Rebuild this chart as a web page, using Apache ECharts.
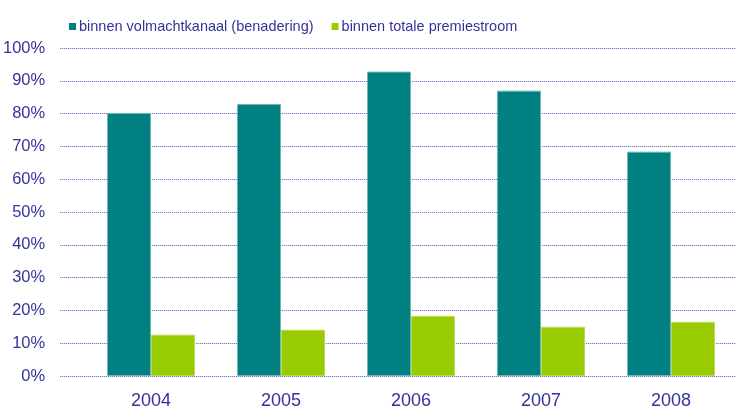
<!DOCTYPE html>
<html>
<head>
<meta charset="utf-8">
<script src="https://cdn.jsdelivr.net/npm/echarts@6/dist/echarts.min.js"></script>
<style>
  html, body { margin: 0; padding: 0; background: #fff; }
  #chart { width: 736px; height: 412px; }
</style>
</head>
<body>
<div id="chart"></div>
<script>
// data
const years = ['2004', '2005', '2006', '2007', '2008'];
const volmachtkanaal = [80.2, 82.9, 92.8, 87.0, 68.4];
const totalePremiestroom = [12.6, 14.1, 18.3, 15.0, 16.5];
const seriesNames = ['binnen volmachtkanaal (benadering)', 'binnen totale premiestroom'];

const textColor = '#333399';
const gridColor = '#5c5cb8';
const font = "'Liberation Sans', Arial, sans-serif";

const chart = echarts.init(document.getElementById('chart'));

const option = {
  animation: false,
  color: ['#008080', '#99cc00'],
  textStyle: { fontFamily: font },
  legend: {
    left: 64,
    top: 14,
    icon: 'rect',
    itemWidth: 7,
    itemHeight: 7,
    itemGap: 18,
    itemStyle: { borderWidth: 0 },
    textStyle: { color: textColor, fontSize: 14.5, fontFamily: font, padding: [0, 0, 0, -2] },
    data: seriesNames
  },
  grid: [
    // gridlines + percentage labels
    { left: 60, right: 0, top: 48, bottom: 36 },
    // bars, the category band runs a bit past the right edge
    { left: 86, right: -8, top: 48, bottom: 36 }
  ],
  xAxis: [
    { gridIndex: 0, type: 'value', show: false },
    {
      gridIndex: 1,
      type: 'category',
      data: years,
      axisLine: { show: false },
      axisTick: { show: false },
      axisLabel: { color: textColor, fontSize: 18, margin: 16, fontFamily: font }
    }
  ],
  yAxis: [
    {
      gridIndex: 0,
      type: 'value',
      min: 0,
      max: 100,
      interval: 10,
      axisLine: { show: false },
      axisTick: { show: false },
      axisLabel: { color: textColor, fontSize: 16.5, margin: 15, formatter: '{value}%', fontFamily: font },
      splitLine: { lineStyle: { color: gridColor, type: 'dotted', width: 1 } }
    },
    {
      gridIndex: 1,
      type: 'value',
      min: 0,
      max: 100,
      show: false,
      splitLine: { show: false }
    }
  ],
  series: [
    {
      name: seriesNames[0],
      type: 'bar',
      xAxisIndex: 1,
      yAxisIndex: 1,
      data: volmachtkanaal,
      barWidth: 44,
      barGap: '0%',
      itemStyle: { borderColor: '#6fb5b5', borderWidth: 1 }
    },
    {
      name: seriesNames[1],
      type: 'bar',
      xAxisIndex: 1,
      yAxisIndex: 1,
      data: totalePremiestroom,
      barWidth: 44,
      barGap: '0%',
      itemStyle: { borderColor: '#b5dd55', borderWidth: 1 }
    }
  ]
};

chart.setOption(option);
</script>
</body>
</html>
